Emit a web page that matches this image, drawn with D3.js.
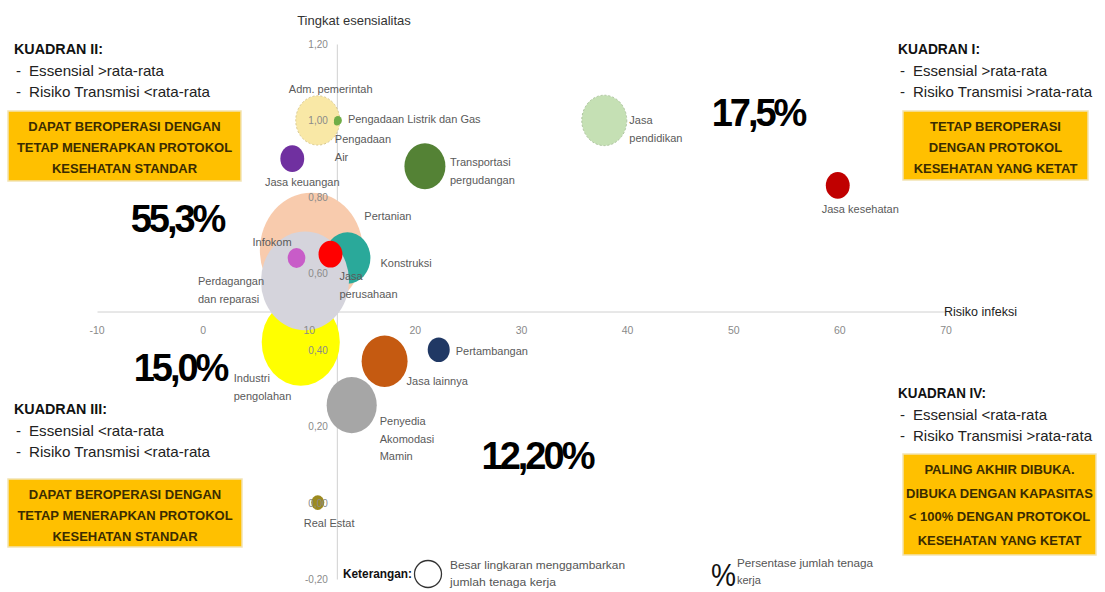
<!DOCTYPE html>
<html>
<head>
<meta charset="utf-8">
<script src="https://cdn.jsdelivr.net/npm/d3@7"></script>
<style>
  html, body { margin: 0; padding: 0; background: #ffffff; }
  svg { display: block; font-family: 'Liberation Sans Narrow', 'Liberation Sans', Arial, sans-serif; }
</style>
</head>
<body>
<svg id="chart" width="1105" height="592"></svg>
<script>
// ---------------- DATA ----------------
const sectors = [
  "Pertanian", "Konstruksi", "Industri pengolahan", "Perdagangan dan reparasi",
  "Infokom", "Jasa perusahaan", "Adm. pemerintah", "Pengadaan Air",
  "Pengadaan Listrik dan Gas", "Jasa keuangan", "Transportasi pergudangan",
  "Jasa pendidikan", "Jasa kesehatan", "Jasa lainnya", "Pertambangan",
  "Penyedia Akomodasi Mamin", "Real Estat"
];
// Risiko infeksi (x)
const risk = [10.2, 13.6, 9.2, 9.6, 8.8, 12.0, 10.8, 12.6, 12.7, 8.4, 20.9, 37.8, 59.8, 17.1, 22.2, 14.0, 10.8];
// Tingkat esensialitas (y)
const essential = [0.66, 0.64, 0.42, 0.58, 0.64, 0.65, 1.00, 0.995, 1.00, 0.90, 0.88, 1.00, 0.83, 0.37, 0.40, 0.255, 0.00];
// Jumlah tenaga kerja (juta) -> bubble size
const workers = [37.2, 7.4, 21.4, 27.2, 1.1, 2.0, 6.8, 0.12, 0.22, 2.0, 5.9, 7.1, 2.0, 7.4, 1.7, 8.8, 0.6];

const xTicks = [-10, 0, 10, 20, 30, 40, 50, 60, 70];
const yTicks = [-0.2, 0, 0.2, 0.4, 0.6, 0.8, 1.0, 1.2];
const meanRisk = 12.6;       // vertical axis crossing
const meanEssential = 0.5;   // horizontal axis crossing

const quadrantPct = [
  { q: "II",  label: "55,3%" },
  { q: "I",   label: "17,5%" },
  { q: "III", label: "15,0%" },
  { q: "IV",  label: "12,20%" }
];

// ---------------- STYLES / LAYOUT (kept apart from data) ----------------
const colors = {
  "Pertanian": "#f8cbad", "Konstruksi": "#2aa99a", "Industri pengolahan": "#ffff00",
  "Perdagangan dan reparasi": "#d5d4dc", "Infokom": "#c85cc8", "Jasa perusahaan": "#ff0000",
  "Adm. pemerintah": "#f9e8a6", "Pengadaan Air": "#70ad47", "Pengadaan Listrik dan Gas": "#70ad47",
  "Jasa keuangan": "#7030a0", "Transportasi pergudangan": "#548235", "Jasa pendidikan": "#c5e0b4",
  "Jasa kesehatan": "#c00000", "Jasa lainnya": "#c55a11", "Pertambangan": "#203864",
  "Penyedia Akomodasi Mamin": "#a6a6a6", "Real Estat": "#9c8a1f"
};
const dashed = new Set(["Adm. pemerintah", "Jasa pendidikan"]);
// label placement relative to bubble centre: [dx, dy, anchor, lines]
const labelPlace = {
  "Pertanian": [53, -34, "start", ["Pertanian"]],
  "Konstruksi": [33, 5, "start", ["Konstruksi"]],
  "Industri pengolahan": [-67, 36, "start", ["Industri", "pengolahan"]],
  "Perdagangan dan reparasi": [-107, 0, "start", ["Perdagangan", "dan reparasi"]],
  "Infokom": [-44, -16, "start", ["Infokom"]],
  "Jasa perusahaan": [9, 22, "start", ["Jasa", "perusahaan"]],
  "Adm. pemerintah": [13, -31, "middle", ["Adm. pemerintah"]],
  "Pengadaan Air": [-2, 17, "start", ["Pengadaan", "Air"]],
  "Pengadaan Listrik dan Gas": [10, -1, "start", ["Pengadaan Listrik dan Gas"]],
  "Jasa keuangan": [10, 23, "middle", ["Jasa keuangan"]],
  "Transportasi pergudangan": [25, -4, "start", ["Transportasi", "pergudangan"]],
  "Jasa pendidikan": [25, 0, "start", ["Jasa", "pendidikan"]],
  "Jasa kesehatan": [-16, 24, "start", ["Jasa kesehatan"]],
  "Jasa lainnya": [22, 20, "start", ["Jasa lainnya"]],
  "Pertambangan": [17, 1, "start", ["Pertambangan"]],
  "Penyedia Akomodasi Mamin": [28, 16, "start", ["Penyedia", "Akomodasi", "Mamin"]],
  "Real Estat": [-14, 20, "start", ["Real Estat"]]
};

const data = sectors.map((s, i) => ({ name: s, x: risk[i], y: essential[i], w: workers[i] }));

const svg = d3.select("#chart");
svg.append("rect").attr("width", 1105).attr("height", 592).attr("fill", "#fff");

const x = d3.scaleLinear().domain([-10, 70]).range([97, 946]);
const y = d3.scaleLinear().domain([-0.2, 1.2]).range([579, 44]);
const r = d3.scaleSqrt().domain([0, 37.2]).range([0, 51.5]);
const stretch = 1.12;

// axis lines (below bubbles)
svg.append("g").attr("transform", `translate(0,${y(meanEssential)})`)
  .call(d3.axisBottom(x).tickValues(xTicks).tickSize(0).tickFormat(""))
  .call(g => g.select(".domain").attr("stroke", "#d0d0d0").attr("stroke-width", 1));
svg.append("g").attr("transform", `translate(${x(meanRisk)},0)`)
  .call(d3.axisLeft(y).tickValues(yTicks).tickSize(0).tickFormat(""))
  .call(g => g.select(".domain").attr("stroke", "#d0d0d0").attr("stroke-width", 1));

// bubbles
svg.append("g").selectAll("ellipse").data(data).join("ellipse")
  .attr("cx", d => x(d.x)).attr("cy", d => y(d.y))
  .attr("rx", d => r(d.w)).attr("ry", d => r(d.w) * stretch)
  .attr("fill", d => colors[d.name])
  .attr("stroke", d => dashed.has(d.name) ? d3.color(colors[d.name]).darker(0.4) : "none")
  .attr("stroke-width", 1)
  .attr("stroke-dasharray", d => dashed.has(d.name) ? "2,2" : null);

// tick labels (above bubbles)
const tickColor = "#8a8a8a";
svg.append("g").selectAll("text").data(xTicks).join("text")
  .attr("x", d => x(d)).attr("y", y(meanEssential) + 22)
  .attr("text-anchor", "middle").attr("font-size", 10.5).attr("fill", tickColor)
  .text(d => String(d));
const fmtY = v => d3.format(".2f")(v).replace(".", ",").replace("\u2212", "-");
svg.append("g").selectAll("text").data(yTicks).join("text")
  .attr("x", x(meanRisk) - 9).attr("y", d => y(d) + 4)
  .attr("text-anchor", "end").attr("font-size", 10).attr("fill", tickColor)
  .text(d => fmtY(d));

// axis titles
svg.append("text").attr("x", 354).attr("y", 25).attr("text-anchor", "middle")
  .attr("font-size", 13).attr("fill", "#333").text("Tingkat esensialitas");
svg.append("text").attr("x", x(70) - 2).attr("y", y(meanEssential) + 4).attr("text-anchor", "start")
  .attr("font-size", 12.5).attr("fill", "#222").text("Risiko infeksi");

// bubble labels
const lab = svg.append("g").attr("font-size", 11).attr("fill", "#5a5a5a");
data.forEach(d => {
  const p = labelPlace[d.name];
  const lh = d.name === "Penyedia Akomodasi Mamin" ? 17.5 : 18;
  const t = lab.append("text").attr("text-anchor", p[2]);
  p[3].forEach((line, i) => {
    t.append("tspan").attr("x", x(d.x) + p[0]).attr("y", y(d.y) + p[1] + 4 + i * lh).text(line);
  });
});

// quadrant descriptions
function quadrant(x0, y0, title, titleW, l1, w1, l2, w2, box, lines, lineGap) {
  const g = svg.append("g");
  g.append("text").attr("x", x0).attr("y", y0).attr("font-size", 14.5).attr("font-weight", "bold")
    .attr("fill", "#111").attr("textLength", titleW).attr("lengthAdjust", "spacingAndGlyphs").text(title);
  [[l1, w1], [l2, w2]].forEach((l, i) => {
    g.append("text").attr("x", x0 + 2).attr("y", y0 + 22 + i * 21).attr("font-size", 15)
      .attr("fill", "#222").text("-");
    g.append("text").attr("x", x0 + 15).attr("y", y0 + 22 + i * 21).attr("font-size", 15)
      .attr("fill", "#222").attr("textLength", l[1]).attr("lengthAdjust", "spacingAndGlyphs").text(l[0]);
  });
  g.append("rect").attr("x", box[0]).attr("y", box[1]).attr("width", box[2]).attr("height", box[3])
    .attr("fill", "#ffc000").attr("stroke", "#f2e3b3").attr("stroke-width", 1.5);
  const cx = box[0] + box[2] / 2;
  lines.forEach((ln, i) => {
    g.append("text").attr("x", cx).attr("y", box[1] + 20 + i * lineGap).attr("text-anchor", "middle")
      .attr("font-size", 13).attr("font-weight", "bold").attr("fill", "#3b2c00").text(ln);
  });
}
quadrant(14, 54, "KUADRAN II:", 89, "Essensial >rata-rata", 135, "Risiko Transmisi <rata-rata", 181,
  [8, 111, 233, 70], ["DAPAT BEROPERASI DENGAN", "TETAP MENERAPKAN PROTOKOL", "KESEHATAN STANDAR"], 21);
quadrant(898, 54, "KUADRAN I:", 82, "Essensial >rata-rata", 134, "Risiko Transmisi >rata-rata", 179,
  [903, 111, 185, 69], ["TETAP BEROPERASI", "DENGAN PROTOKOL", "KESEHATAN YANG KETAT"], 21);
quadrant(14, 414, "KUADRAN III:", 93, "Essensial <rata-rata", 135, "Risiko Transmisi <rata-rata", 181,
  [8, 479, 234, 68], ["DAPAT BEROPERASI DENGAN", "TETAP MENERAPKAN PROTOKOL", "KESEHATAN STANDAR"], 21);
quadrant(898, 398, "KUADRAN IV:", 88, "Essensial <rata-rata", 134, "Risiko Transmisi >rata-rata", 179,
  [903, 454, 193, 101], ["PALING AKHIR DIBUKA.", "DIBUKA DENGAN KAPASITAS", "< 100% DENGAN PROTOKOL", "KESEHATAN YANG KETAT"], 23.5);

// big percentages
const pctPos = { "II": [177, 232], "I": [758, 126], "III": [180, 381], "IV": [537, 469] };
svg.append("g").selectAll("text").data(quadrantPct).join("text")
  .attr("x", d => pctPos[d.q][0]).attr("y", d => pctPos[d.q][1])
  .attr("text-anchor", "middle").attr("font-size", 38).attr("font-weight", "bold")
  .attr("letter-spacing", -3).attr("fill", "#000").text(d => d.label);

// legend
const lg = svg.append("g");
lg.append("text").attr("x", 343).attr("y", 578).attr("font-size", 12).attr("font-weight", "bold")
  .attr("textLength", 69).attr("lengthAdjust", "spacingAndGlyphs").attr("fill", "#111").text("Keterangan:");
lg.append("circle").attr("cx", 428).attr("cy", 574).attr("r", 13.5).attr("fill", "none")
  .attr("stroke", "#333").attr("stroke-width", 1.3);
lg.append("text").attr("x", 450).attr("y", 569).attr("font-size", 11.5).attr("fill", "#555")
  .attr("textLength", 175).attr("lengthAdjust", "spacingAndGlyphs").text("Besar lingkaran menggambarkan");
lg.append("text").attr("x", 450).attr("y", 586).attr("font-size", 11.5).attr("fill", "#555")
  .attr("textLength", 106).attr("lengthAdjust", "spacingAndGlyphs").text("jumlah tenaga kerja");
lg.append("text").attr("x", 711).attr("y", 586).attr("font-size", 31).attr("fill", "#111")
  .attr("textLength", 25).attr("lengthAdjust", "spacingAndGlyphs").text("%");
lg.append("text").attr("x", 737).attr("y", 567).attr("font-size", 11).attr("fill", "#555")
  .attr("textLength", 136).attr("lengthAdjust", "spacingAndGlyphs").text("Persentase jumlah tenaga");
lg.append("text").attr("x", 737).attr("y", 584).attr("font-size", 11).attr("fill", "#555")
  .text("kerja");
</script>
</body>
</html>
